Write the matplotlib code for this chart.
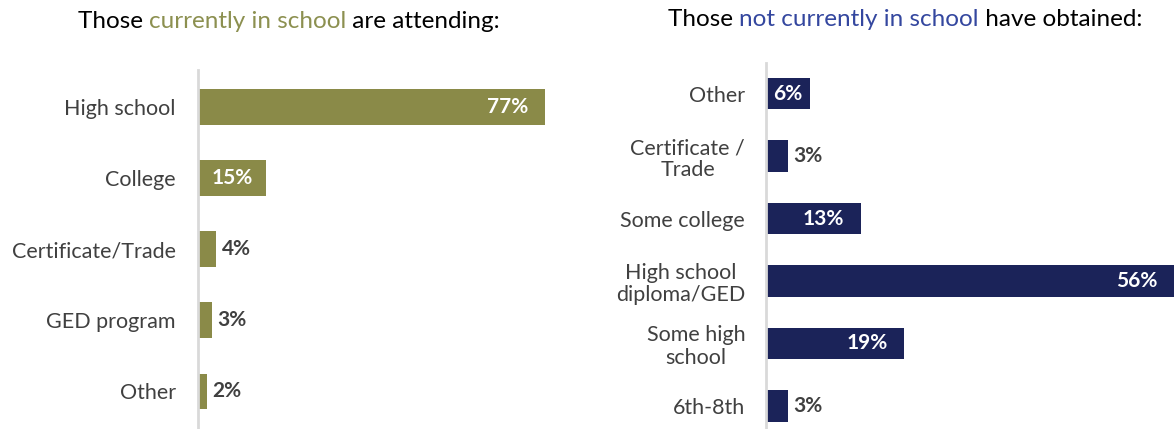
import matplotlib.pyplot as plt

plt.rcParams['font.family'] = ['Lato', 'DejaVu Sans']

# currently in school
in_school_labels = ["High school", "College", "Certificate/Trade", "GED program", "Other"]
in_school_values = [77, 15, 4, 3, 2]

# not currently in school
out_school_labels = ["Other", "Certificate /\nTrade", "Some college",
                     "High school\ndiploma/GED", "Some high\nschool", "6th-8th"]
out_school_values = [6, 3, 13, 56, 19, 3]

olive = "#8A8A48"
navy = "#1B2359"
label_gray = "#404040"
W, H = 1174, 429

fig = plt.figure(figsize=(W / 100, H / 100), dpi=100)


def px_axes(x0, y0, x1, y1):
    # axes box given in pixel coordinates from the top-left corner
    return fig.add_axes([x0 / W, 1 - y1 / H, (x1 - x0) / W, (y1 - y0) / H])


def draw_panel(ax, labels, values, color, px_per_unit, ylim, pad):
    width_px = ax.get_position().width * W
    y = range(len(labels))
    ax.barh(y, values, height=0.5, color=color)
    ax.set_xlim(0, width_px / px_per_unit)
    ax.set_ylim(*ylim)
    ax.set_yticks(list(y))
    ax.set_yticklabels(labels, fontsize=15.5, color=label_gray, ma="center",
                       linespacing=1.15)
    ax.tick_params(axis="y", length=0, pad=pad)
    ax.set_xticks([])
    for side in ["top", "right", "bottom"]:
        ax.spines[side].set_visible(False)
    ax.spines["left"].set_color("#D9D9D9")
    ax.spines["left"].set_linewidth(2)
    for yi, v in zip(y, values):
        bar_px = v * px_per_unit
        kw = dict(va="center", fontsize=15, fontweight="bold")
        if bar_px >= 90:
            ax.annotate(f"{v}%", (v, yi), xytext=(-12, 0), textcoords="offset points",
                        ha="right", color="white", **kw)
        elif bar_px >= 40:
            ax.annotate(f"{v}%", (v / 2, yi), ha="center", color="white", **kw)
        else:
            ax.annotate(f"{v}%", (v, yi), xytext=(4, 0), textcoords="offset points",
                        ha="left", color=label_gray, **kw)


ax1 = px_axes(198, 70, 578, 429)
draw_panel(ax1, in_school_labels, in_school_values, olive, 4.51, (4.53, -0.52), 16)

ax2 = px_axes(766, 63, 1174, 429)
draw_panel(ax2, out_school_labels, out_school_values, navy, 408 / 56, (5.37, -0.49), 15)


def title_line(x, y, parts, size=17.5):
    # each piece is anchored to the right edge of the previous one
    prev = fig.text(x / W, 1 - y / H, parts[0][0], color=parts[0][1], fontsize=size,
                    ha="left", va="baseline")
    for text, color in parts[1:]:
        prev = fig.add_artist(plt.Annotation(text, xy=(1, 0), xycoords=prev,
                                             color=color, fontsize=size,
                                             ha="left", va="bottom",
                                             annotation_clip=False))


title_line(78, 28, [("Those ", "black"), ("currently in school", "#8C9050"),
                    (" are attending:", "black")])
title_line(668, 26, [("Those ", "black"), ("not currently in school", "#34479F"),
                     (" have obtained:", "black")])

fig.savefig("out.png", dpi=100)
